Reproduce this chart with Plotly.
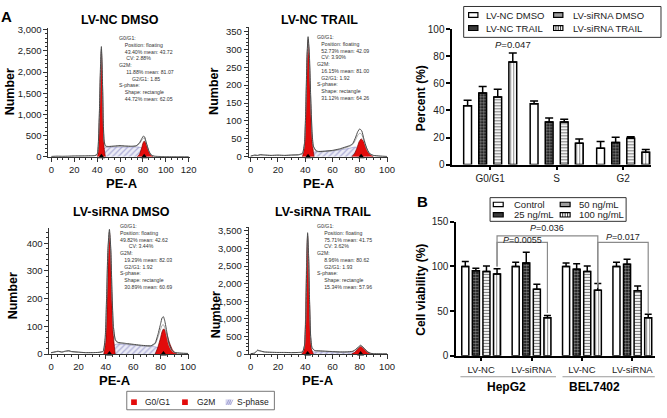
import plotly.graph_objects as go

W, H = 667, 418
FONT = "Liberation Sans, Arial, Helvetica, sans-serif"

# ---------------- Panel A: cell-cycle histograms ----------------
hist_titles = ["LV-NC DMSO", "LV-NC TRAIL", "LV-siRNA DMSO", "LV-siRNA TRAIL"]

h1_x = [0, 5, 10, 15, 20, 25, 30, 35, 38, 40, 41, 42, 43, 43.7, 44.5, 45.3, 46, 47, 48, 50,
        55, 60, 65, 70, 74, 77, 79, 80.5, 81.5, 83, 85, 87, 90, 95, 100, 110, 120]
h1_data = [10, 15, 12, 15, 20, 20, 22, 25, 30, 60, 300, 1100, 2200, 2600, 2000, 900, 400, 270, 250, 245,
           255, 265, 255, 250, 260, 330, 430, 490, 470, 330, 150, 50, 15, 8, 5, 3, 2]
h1_fit = [8, 12, 12, 14, 18, 20, 22, 24, 28, 55, 280, 1050, 2150, 2550, 1950, 880, 390, 260, 240, 238,
          245, 250, 248, 245, 252, 310, 395, 440, 430, 320, 150, 50, 15, 8, 5, 3, 2]
h1_g1_x = [40.3, 41, 42, 43, 43.7, 44.5, 45.3, 46.2, 47.2]
h1_g1_y = [0, 120, 900, 2050, 2480, 1900, 800, 180, 0]
h1_g2_x = [75, 77, 79, 80, 81, 82, 83, 85, 87, 89]
h1_g2_y = [0, 60, 220, 320, 370, 355, 290, 140, 40, 0]
h1_s_x = [42, 44, 46, 48, 55, 62, 70, 76, 79, 81, 83, 85]
h1_s_y = [0, 90, 190, 230, 232, 236, 232, 232, 215, 150, 60, 0]
h1_means = [43.72, 81.07]
h1_stats = [(0, "G0/G1:"), (4, "Position: floating"), (4, "43.40% mean: 43.72"), (5, "CV: 2.88%"),
            (0, "G2M:"), (5, "11.88% mean: 81.07"), (9, "G2/G1: 1.85"), (0, "S-phase:"),
            (4, "Shape: rectangle"), (4, "44.72% mean: 62.05")]

h2_x = [0, 3, 5, 7, 10, 15, 20, 25, 30, 35, 38, 39.5, 40.5, 41.3, 42.1, 43, 44, 45, 46, 48,
        50, 55, 60, 65, 70, 73, 75, 77, 78.5, 80, 81.5, 83, 85, 87, 90, 95, 100]
h2_data = [2, 5, 4, 6, 5, 4, 5, 4, 5, 6, 10, 40, 150, 280, 335, 290, 170, 70, 30, 17,
           15, 16, 18, 22, 28, 32, 38, 55, 70, 78, 72, 50, 25, 10, 4, 2, 1]
h2_fit = [2, 4, 4, 5, 5, 4, 4, 4, 5, 5, 9, 38, 145, 275, 328, 285, 165, 68, 28, 16,
          14, 15, 17, 20, 26, 30, 35, 48, 60, 66, 62, 45, 22, 9, 4, 2, 1]
h2_g1_x = [38, 39.5, 40.5, 41.3, 42.1, 43, 44, 45, 46.5]
h2_g1_y = [0, 30, 130, 260, 325, 270, 140, 45, 0]
h2_g2_x = [74, 76, 78, 79.5, 81, 82.5, 84, 86, 88, 90]
h2_g2_y = [0, 8, 25, 42, 50, 45, 33, 15, 5, 0]
h2_s_x = [43, 45, 47, 50, 60, 70, 76, 79, 81, 83, 86]
h2_s_y = [0, 8, 14, 15, 17, 22, 27, 27, 22, 12, 0]
h2_means = [42.09, 81.00]
h2_stats = [(0, "G0/G1:"), (3, "Position: floating"), (3, "52.73% mean: 42.09"), (3, "CV: 3.90%"),
            (0, "G2M:"), (3, "16.15% mean: 81.00"), (3, "G2/G1: 1.92"), (0, "S-phase:"),
            (3, "Shape: rectangle"), (3, "31.12% mean: 64.26")]

h3_x = [0, 3, 5, 8, 10, 13, 15, 20, 25, 30, 35, 38, 39.5, 40.5, 41.5, 42.6, 43.6, 44.5, 45.5, 47,
        49, 52, 55, 60, 65, 70, 73, 76, 78, 80, 81, 82, 83, 84.5, 86, 88, 90, 95, 100]
h3_data = [5, 8, 10, 7, 10, 12, 9, 7, 5, 5, 6, 10, 60, 200, 380, 450, 380, 220, 100, 50,
           42, 40, 38, 35, 32, 30, 30, 40, 70, 110, 130, 135, 120, 80, 40, 15, 6, 3, 2]
h3_fit = [4, 7, 9, 7, 9, 10, 8, 6, 5, 5, 6, 9, 55, 195, 370, 440, 372, 215, 98, 48,
          40, 38, 36, 33, 30, 28, 28, 36, 60, 90, 103, 106, 95, 65, 33, 12, 5, 3, 2]
h3_g1_x = [38.5, 40, 41, 42, 42.6, 43.3, 44.2, 45.2, 46.8]
h3_g1_y = [0, 50, 190, 380, 440, 390, 230, 80, 0]
h3_g2_x = [76, 78, 80, 81, 82, 83, 84.5, 86.5, 89, 92]
h3_g2_y = [0, 25, 60, 80, 90, 88, 72, 40, 12, 0]
h3_s_x = [42, 44, 46, 48, 52, 60, 70, 76, 80, 82, 85, 88]
h3_s_y = [0, 20, 32, 36, 35, 32, 28, 26, 20, 12, 4, 0]
h3_means = [42.62, 82.03]
h3_stats = [(0, "G0/G1:"), (0, "Position: floating"), (0, "49.82% mean: 42.62"), (6, "CV: 3.44%"),
            (0, "G2M:"), (3, "19.29% mean: 82.03"), (3, "G2/G1: 1.92"), (0, "S-phase:"),
            (3, "Shape: rectangle"), (3, "30.89% mean: 60.69")]

h4_x = [0, 3, 5, 6, 8, 10, 15, 20, 25, 30, 35, 38, 39.5, 40.5, 41.2, 41.75, 42.4, 43.2, 44, 45,
        47, 50, 55, 60, 65, 70, 75, 77, 79, 80.6, 82, 84, 86, 88, 90, 95, 100]
h4_data = [10, 30, 110, 100, 80, 60, 50, 45, 45, 40, 45, 60, 250, 1200, 2800, 3450, 2900, 1500, 500, 180,
           100, 90, 80, 70, 60, 60, 80, 130, 200, 250, 210, 120, 50, 20, 10, 5, 3]
h4_fit = [8, 25, 95, 90, 72, 55, 46, 42, 42, 38, 42, 55, 240, 1150, 2750, 3400, 2850, 1450, 480, 170,
          95, 85, 75, 65, 56, 56, 74, 118, 180, 225, 190, 110, 45, 18, 9, 5, 3]
h4_g1_x = [37.5, 39, 40, 41, 41.75, 42.5, 43.5, 44.5, 46]
h4_g1_y = [0, 100, 700, 2600, 3350, 2700, 900, 150, 0]
h4_g2_x = [74, 76, 78, 79.5, 80.6, 82, 84, 86, 88, 90]
h4_g2_y = [0, 40, 120, 190, 220, 200, 130, 60, 15, 0]
h4_s_x = [42, 44, 46, 50, 60, 70, 76, 79, 82, 85]
h4_s_y = [0, 40, 60, 60, 55, 50, 45, 30, 10, 0]
h4_means = [41.75, 80.62]
h4_stats = [(0, "G0/G1:"), (5, "Position: floating"), (5, "75.71% mean: 41.75"), (5, "CV: 3.62%"),
            (0, "G2M:"), (5, "8.96% mean: 80.62"), (5, "G2/G1: 1.93"), (0, "S-phase:"),
            (5, "Shape: rectangle"), (5, "15.34% mean: 57.96")]

hist_legend = ["G0/G1", "G2M", "S-phase"]

# ---------------- Panel A right: phase distribution ----------------
phase_categories = ["G0/G1", "S", "G2"]
phase_groups = ["LV-NC DMSO", "LV-NC TRAIL", "LV-siRNA DMSO", "LV-siRNA TRAIL"]
pct_lvnc_dmso = [43.5, 45.0, 12.0]
pct_lvnc_dmso_err = [4.0, 2.0, 5.0]
pct_lvnc_trail = [53.0, 31.5, 16.3]
pct_lvnc_trail_err = [4.8, 3.0, 4.0]
pct_sirna_dmso = [50.0, 31.5, 19.5]
pct_sirna_dmso_err = [5.7, 2.0, 1.0]
pct_sirna_trail = [75.8, 15.8, 9.1]
pct_sirna_trail_err = [6.7, 3.1, 2.1]
phase_pvalue = "0.047"

# ---------------- Panel B: cell viability ----------------
via_categories = ["LV-NC", "LV-siRNA", "LV-NC", "LV-siRNA"]
cell_lines = ["HepG2", "BEL7402"]
doses = ["Control", "25 ng/mL", "50 ng/mL", "100 ng/mL"]
via_control = [100, 100, 100, 100]
via_control_err = [5.5, 4.7, 4.0, 4.7]
via_25 = [95.3, 104.0, 97.0, 102.5]
via_25_err = [2.7, 12.0, 6.0, 5.5]
via_50 = [94.5, 74.5, 94.5, 72.7]
via_50_err = [6.2, 5.5, 6.2, 5.3]
via_100 = [91.6, 42.5, 73.5, 42.5]
via_100_err = [5.9, 2.5, 7.5, 4.0]
via_pvalues = ["0.0055", "0.036", "0.017"]

# ---------------- helpers ----------------
def px(x):
    return x / W

def py(y):
    return 1 - y / H

def ann(text, x, y, size, bold=False, xanchor="center", yanchor="middle", angle=0,
        color="black", align="center"):
    return dict(text=text, x=px(x), y=py(y), xref="paper", yref="paper", showarrow=False,
                font=dict(family=FONT, size=size, color=color, weight="bold" if bold else "normal"),
                xanchor=xanchor, yanchor=yanchor, textangle=angle, align=align)

fig = go.Figure()
annotations = []
shapes = []

# pattern styles: white, checker, horizontal stripes, vertical stripes
bar_styles = [
    dict(color="white"),
    dict(color="black", pattern=dict(shape=".", fgcolor="white", bgcolor="black", size=3, solidity=0.55)),
    dict(color="white", pattern=dict(shape="-", fgcolor="black", bgcolor="white", size=3, solidity=0.4)),
    dict(color="white", pattern=dict(shape="|", fgcolor="black", bgcolor="white", size=3, solidity=0.3)),
]
swatch_fill = ["white", "#3a3a3a", "#9c9c9c", "white"]

# ---- histograms ----
hists = [
    dict(x=h1_x, d=h1_data, f=h1_fit, g1=(h1_g1_x, h1_g1_y), g2=(h1_g2_x, h1_g2_y), s=(h1_s_x, h1_s_y),
         means=h1_means, stats=h1_stats, xd=(48, 191.7), xr=(-2.59, 121.5), yd=(23, 155.3), yr=(0, 3030),
         ydt=500, ymin=100, title=(120.5, 14), num=(10, 88), pe=(122, 183), st=(117.3, 27.5)),
    dict(x=h2_x, d=h2_data, f=h2_fit, g1=(h2_g1_x, h2_g1_y), g2=(h2_g2_x, h2_g2_y), s=(h2_s_x, h2_s_y),
         means=h2_means, stats=h2_stats, xd=(250.7, 391.7), xr=(-1.45, 100.7), yd=(22, 155.3), yr=(0, 361),
         ydt=50, ymin=10, title=(322, 14), num=(216, 88), pe=(321.7, 183), st=(317.7, 26.5)),
    dict(x=h3_x, d=h3_data, f=h3_fit, g1=(h3_g1_x, h3_g1_y), g2=(h3_g2_x, h3_g2_y), s=(h3_s_x, h3_s_y),
         means=h3_means, stats=h3_stats, xd=(49, 190), xr=(-1.23, 100.5), yd=(228.3, 358.3), yr=(0, 456),
         ydt=100, ymin=20, title=(121.7, 212), num=(13, 298), pe=(115, 386), st=(118.3, 221.5)),
    dict(x=h4_x, d=h4_data, f=h4_fit, g1=(h4_g1_x, h4_g1_y), g2=(h4_g2_x, h4_g2_y), s=(h4_s_x, h4_s_y),
         means=h4_means, stats=h4_stats, xd=(250.7, 391.7), xr=(-1.45, 100.7), yd=(228, 358.3), yr=(0, 3600),
         ydt=500, ymin=100, title=(325.8, 212), num=(217, 318), pe=(321, 386), st=(318.3, 221)),
]

axis_common = dict(showgrid=False, zeroline=False, showline=True, linecolor="#333", linewidth=1,
                   ticks="outside", ticklen=4, tickwidth=1, tickcolor="#333",
                   tickfont=dict(family=FONT, size=9.5, color="#222"))

for i, hd in enumerate(hists):
    n = "" if i == 0 else str(i + 1)
    xa, ya = "x" + n, "y" + n
    fig.add_trace(go.Scatter(x=hd["s"][0], y=hd["s"][1], xaxis=xa, yaxis=ya, mode="lines", fill="tozeroy",
                             line=dict(color="#8c8cc8", width=0.6), fillcolor="rgba(0,0,0,0)",
                             fillpattern=dict(shape="/", fgcolor="#6f6fb5", bgcolor="#ececf7", size=4, solidity=0.3),
                             name=hist_legend[2], showlegend=False, hoverinfo="skip"))
    for key in ("g1", "g2"):
        fig.add_trace(go.Scatter(x=hd[key][0], y=hd[key][1], xaxis=xa, yaxis=ya, mode="lines", fill="tozeroy",
                                 line=dict(color="#7a0000", width=0.7, shape="spline", smoothing=0.6),
                                 fillcolor="#e30b0b", showlegend=False, hoverinfo="skip"))
    fig.add_trace(go.Scatter(x=hd["x"], y=hd["f"], xaxis=xa, yaxis=ya, mode="lines",
                             line=dict(color="#a8a8a8", width=1, shape="spline", smoothing=0.5),
                             showlegend=False, hoverinfo="skip"))
    fig.add_trace(go.Scatter(x=hd["x"], y=hd["d"], xaxis=xa, yaxis=ya, mode="lines",
                             line=dict(color="#4a4a4a", width=1, shape="spline", smoothing=0.5),
                             showlegend=False, hoverinfo="skip"))
    fig.add_trace(go.Scatter(x=hd["means"], y=[0, 0], xaxis=xa, yaxis=ya, mode="markers",
                             marker=dict(symbol="triangle-up", size=6, color="black"),
                             cliponaxis=False, showlegend=False, hoverinfo="skip"))
    fig.layout["xaxis" + n] = dict(axis_common, domain=[px(hd["xd"][0]), px(hd["xd"][1])], range=list(hd["xr"]),
                                   tick0=0, dtick=20, anchor=ya,
                                   minor=dict(ticks="outside", ticklen=2, dtick=5, tickcolor="#333"))
    fig.layout["yaxis" + n] = dict(axis_common, domain=[py(hd["yd"][1]), py(hd["yd"][0])], range=list(hd["yr"]),
                                   tick0=0, dtick=hd["ydt"], anchor=xa, tickformat=",",
                                   minor=dict(ticks="outside", ticklen=2, dtick=hd["ymin"], tickcolor="#333"))
    annotations.append(ann(hist_titles[i], hd["title"][0], hd["title"][1], 12.5, bold=True))
    annotations.append(ann("Number", hd["num"][0], hd["num"][1], 12.5, bold=True, angle=-90))
    annotations.append(ann("PE-A", hd["pe"][0], hd["pe"][1], 13, bold=True))
    stat_text = "<br>".join("\u00a0" * ind + t for ind, t in hd["stats"])
    annotations.append(ann(stat_text, hd["st"][0], hd["st"][1], 5.2, xanchor="left", yanchor="top",
                           color="#333", align="left"))

# bottom legend of histograms (manual)
shapes.append(dict(type="rect", xref="paper", yref="paper", x0=px(127.3), x1=px(276.7), y0=py(415.7), y1=py(396.7),
                   line=dict(color="#555", width=0.8), fillcolor="white"))
leg_sq_x = [131.7, 183.3, 227.3]
leg_tx_x = [143.3, 196, 237.3]
leg_fill = ["#e30b0b", "#e30b0b", "#d4d4ee"]
for k, lab in enumerate(hist_legend):
    shapes.append(dict(type="rect", xref="paper", yref="paper", x0=px(leg_sq_x[k]), x1=px(leg_sq_x[k] + 5.8),
                       y0=py(410.8), y1=py(405), line=dict(width=0), fillcolor=leg_fill[k]))
    annotations.append(ann(lab, leg_tx_x[k], 407.8, 8.5, xanchor="left", color="#222"))
for t in range(3):
    xs = leg_sq_x[2] + 1 + 2 * t
    shapes.append(dict(type="line", xref="paper", yref="paper", x0=px(xs), x1=px(xs + 2.5), y0=py(410.5),
                       y1=py(405.3), line=dict(color="#8080c0", width=0.6)))

# ---- Panel A right: percent bars ----
a_vals = [pct_lvnc_dmso, pct_lvnc_trail, pct_sirna_dmso, pct_sirna_trail]
a_errs = [pct_lvnc_dmso_err, pct_lvnc_trail_err, pct_sirna_dmso_err, pct_sirna_trail_err]
a_step, a_w = 0.2265, 0.118
for k in range(4):
    fig.add_trace(go.Bar(x=phase_categories, y=a_vals[k], xaxis="x5", yaxis="y5", name=phase_groups[k],
                         offset=(k - 1.5) * a_step - a_w / 2, width=a_w,
                         marker=dict(line=dict(color="black", width=1.5), **bar_styles[k]),
                         error_y=dict(type="data", symmetric=False, array=a_errs[k], arrayminus=[0] * 3,
                                      color="black", thickness=1.5, width=4),
                         showlegend=False, hoverinfo="skip"))
bar_axis = dict(showgrid=False, zeroline=False, showline=True, linecolor="black", linewidth=1.5,
                ticks="outside", ticklen=4, tickwidth=1.5, tickcolor="black",
                tickfont=dict(family=FONT, size=10, color="#222"))
fig.layout.xaxis5 = dict(bar_axis, domain=[px(456.7), px(658)], range=[-0.571, 2.42], anchor="y5",
                         type="category", fixedrange=True)
fig.layout.yaxis5 = dict(bar_axis, domain=[py(163.3), py(24)], range=[0, 100], dtick=20, anchor="x5")
annotations.append(dict(text="<i>P</i>=" + phase_pvalue, x=1.5 * a_step, y=a_vals[3][0] + a_errs[3][0],
                        xref="x5", yref="y5", showarrow=False, yanchor="bottom", yshift=1,
                        font=dict(family=FONT, size=9.5, color="#222")))
annotations.append(ann("Percent (%)", 425, 95, 12, bold=True, angle=-90))

# legend A (manual, 2x2)
shapes.append(dict(type="rect", xref="paper", yref="paper", x0=px(468.3), x1=px(668), y0=py(32.3), y1=py(0.5),
                   line=dict(color="#333", width=1)))
la_sx, la_tx, la_rows = [473.3, 559.3], [489.3, 576.7], [9.3, 22.7]

def swatch(x0, yc, w, h, k):
    shapes.append(dict(type="rect", xref="paper", yref="paper", x0=px(x0), x1=px(x0 + w), y0=py(yc + h / 2),
                       y1=py(yc - h / 2), line=dict(color="black", width=1.2), fillcolor=swatch_fill[k]))
    if k == 3:
        for t in range(1, 4):
            xs = x0 + w * t / 4
            shapes.append(dict(type="line", xref="paper", yref="paper", x0=px(xs), x1=px(xs),
                               y0=py(yc + h / 2), y1=py(yc - h / 2), line=dict(color="black", width=0.8)))

for k in range(4):
    c, r = k // 2, k % 2
    swatch(la_sx[c], la_rows[r], 9.4, 5, k)
    annotations.append(ann(phase_groups[k], la_tx[c], la_rows[r], 9.5, xanchor="left", color="#222"))

# ---- Panel B: viability bars ----
b_vals = [via_control, via_25, via_50, via_100]
b_errs = [via_control_err, via_25_err, via_50_err, via_100_err]
b_pos = list(range(len(via_categories)))
b_step, b_w = 0.21, 0.14
for k in range(4):
    fig.add_trace(go.Bar(x=b_pos, y=b_vals[k], xaxis="x6", yaxis="y6", name=doses[k],
                         offset=(k - 1.5) * b_step - b_w / 2, width=b_w,
                         marker=dict(line=dict(color="black", width=1.5), **bar_styles[k]),
                         error_y=dict(type="data", symmetric=False, array=b_errs[k], arrayminus=[0] * 4,
                                      color="black", thickness=1.5, width=3.5),
                         showlegend=False, hoverinfo="skip"))
fig.layout.xaxis6 = dict(bar_axis, domain=[px(460.7), px(662)], range=[-0.496, 3.451], anchor="y6",
                         tickvals=b_pos, ticktext=via_categories, tickfont=dict(family=FONT, size=9.5, color="#222"))
fig.layout.yaxis6 = dict(bar_axis, domain=[py(360), py(222.3)], range=[0, 150], dtick=50, anchor="x6")
annotations.append(ann("Cell viability (%)", 425.5, 291.7, 12, bold=True, angle=-90))

# significance brackets (x at the 100 ng/mL bar of each group)
def b4(g):
    return g + 1.5 * b_step

brackets = [  # (left group, right group, top, left bottom, right bottom, p, text shift)
    (0, 1, 127.1, 100.0, 47.9, via_pvalues[0], -4),
    (0, 2, 134.3, 100.0, 76.3, via_pvalues[1], 2),
    (2, 3, 127.1, 76.3, 47.9, via_pvalues[2], -1),
]
for gl, gr, top, lb, rb, p, ys in brackets:
    xl, xr = b4(gl), b4(gr)
    shapes.append(dict(type="path", xref="x6", yref="y6",
                       path=f"M{xl},{lb} L{xl},{top} L{xr},{top} L{xr},{rb}",
                       line=dict(color="#8a8a8a", width=1.2)))
    annotations.append(dict(text="<i>P</i>=" + p, x=(xl + xr) / 2, y=top, xref="x6", yref="y6",
                            showarrow=False, yanchor="bottom", yshift=ys, borderpad=0,
                            font=dict(family=FONT, size=9, color="#222")))

# cell line group labels + underlines
for gi, (x0, x1, xc) in enumerate([(465, 561.7, 511.7), (568.3, 661.7, 600.8)]):
    shapes.append(dict(type="line", xref="paper", yref="paper", x0=px(x0), x1=px(x1), y0=py(381.7), y1=py(381.7),
                       line=dict(color="#9a9a9a", width=1.2)))
    annotations.append(ann(cell_lines[gi], xc, 392.5, 12, bold=True))

# legend B (manual, 2x2)
shapes.append(dict(type="rect", xref="paper", yref="paper", x0=px(495), x1=px(632.7), y0=py(221.7), y1=py(197.3),
                   line=dict(color="#333", width=1)))
lb_sx, lb_tx, lb_rows = [498.3, 566], [517.3, 583.3], [204.3, 215]
for k in range(4):
    c, r = k // 2, k % 2
    swatch(lb_sx[c], lb_rows[r], 10, 4.5, k)
    annotations.append(ann(doses[k], lb_tx[c], lb_rows[r], 9.5, xanchor="left", color="#222"))

# panel letters
annotations.append(ann("A", 5.5, 11.3, 15, bold=True))
annotations.append(ann("B", 427, 201, 15, bold=True))

fig.update_layout(width=W, height=H, autosize=False, margin=dict(l=0, r=0, t=0, b=0),
                  paper_bgcolor="white", plot_bgcolor="white", barmode="overlay",
                  showlegend=False, annotations=annotations, shapes=shapes,
                  font=dict(family=FONT, color="#222"))
fig.write_html("out.html", config={"displayModeBar": False},
               post_script="document.body.style.margin='0';document.body.style.overflow='hidden';")
